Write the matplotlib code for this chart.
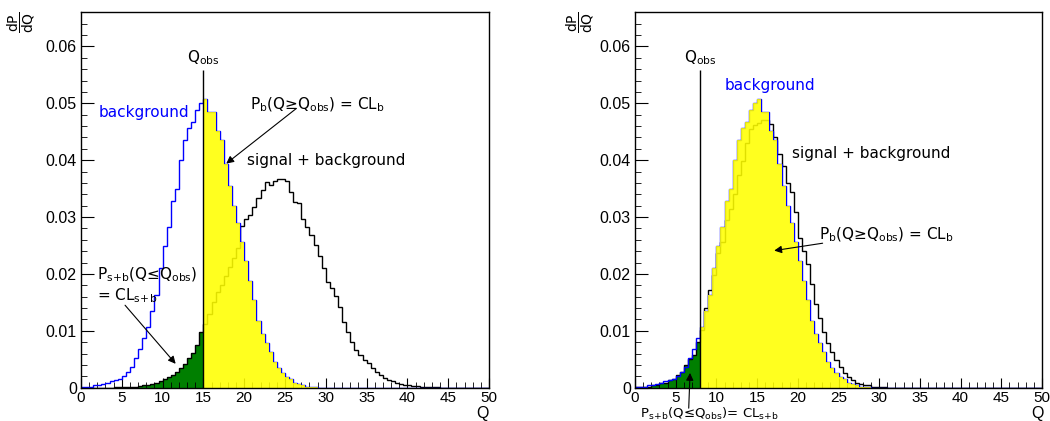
import numpy as np
import matplotlib
matplotlib.use("Agg")
import matplotlib.pyplot as plt
from matplotlib.ticker import MultipleLocator, FuncFormatter

# histogram bins: 0..50 in steps of 0.5
q_edges = np.linspace(0, 50, 101)

# background-only distribution (same in both panels)
background = [
    0.0001, 0.0002, 0.0002, 0.0004, 0.0005, 0.0006, 0.0009, 0.0011, 0.0013, 0.0016,
    0.0020, 0.0028, 0.0037, 0.0052, 0.0068, 0.0088, 0.0106, 0.0135, 0.0163, 0.0211,
    0.0249, 0.0283, 0.0328, 0.0350, 0.0400, 0.0436, 0.0456, 0.0467, 0.0488, 0.0500,
    0.0508, 0.0484, 0.0485, 0.0451, 0.0435, 0.0393, 0.0355, 0.0320, 0.0289, 0.0256,
    0.0222, 0.0188, 0.0155, 0.0118, 0.0094, 0.0078, 0.0062, 0.0045, 0.0034, 0.0025,
    0.0019, 0.0015, 0.0009, 0.0006, 0.0004, 0.0002, 0.0001, 0.0001, 0.0000, 0.0000,
    0.0000, 0.0000, 0.0000, 0.0000, 0.0000, 0.0000, 0.0000, 0.0000, 0.0000, 0.0000,
    0.0000, 0.0000, 0.0000, 0.0000, 0.0000, 0.0000, 0.0000, 0.0000, 0.0000, 0.0000,
    0.0000, 0.0000, 0.0000, 0.0000, 0.0000, 0.0000, 0.0000, 0.0000, 0.0000, 0.0000,
    0.0000, 0.0000, 0.0000, 0.0000, 0.0000, 0.0000, 0.0000, 0.0000, 0.0000, 0.0000,
]

# signal + background, left panel (large signal)
sb_left = [
    0.0000, 0.0000, 0.0000, 0.0000, 0.0000, 0.0000, 0.0000, 0.0000, 0.0001, 0.0001,
    0.0001, 0.0001, 0.0002, 0.0002, 0.0003, 0.0004, 0.0005, 0.0007, 0.0009, 0.0012,
    0.0016, 0.0019, 0.0023, 0.0028, 0.0034, 0.0041, 0.0052, 0.0061, 0.0075, 0.0098,
    0.0112, 0.0130, 0.0150, 0.0168, 0.0181, 0.0196, 0.0213, 0.0228, 0.0246, 0.0285,
    0.0296, 0.0303, 0.0318, 0.0334, 0.0347, 0.0362, 0.0357, 0.0364, 0.0367, 0.0367,
    0.0364, 0.0344, 0.0326, 0.0324, 0.0297, 0.0282, 0.0268, 0.0251, 0.0231, 0.0210,
    0.0185, 0.0175, 0.0162, 0.0142, 0.0115, 0.0098, 0.0081, 0.0066, 0.0057, 0.0049,
    0.0043, 0.0034, 0.0028, 0.0022, 0.0017, 0.0013, 0.0011, 0.0008, 0.0006, 0.0005,
    0.0004, 0.0003, 0.0003, 0.0002, 0.0002, 0.0001, 0.0001, 0.0001, 0.0000, 0.0000,
    0.0000, 0.0000, 0.0000, 0.0000, 0.0000, 0.0000, 0.0000, 0.0000, 0.0000, 0.0000,
]

# signal + background, right panel (small signal)
sb_right = [
    0.0001, 0.0001, 0.0001, 0.0002, 0.0004, 0.0005, 0.0008, 0.0009, 0.0013, 0.0016,
    0.0022, 0.0028, 0.0040, 0.0050, 0.0058, 0.0080, 0.0101, 0.0140, 0.0172, 0.0198,
    0.0236, 0.0256, 0.0295, 0.0315, 0.0340, 0.0374, 0.0398, 0.0430, 0.0455, 0.0462,
    0.0466, 0.0470, 0.0470, 0.0463, 0.0441, 0.0410, 0.0390, 0.0360, 0.0344, 0.0309,
    0.0264, 0.0240, 0.0217, 0.0183, 0.0148, 0.0122, 0.0098, 0.0078, 0.0063, 0.0049,
    0.0036, 0.0025, 0.0018, 0.0013, 0.0009, 0.0007, 0.0005, 0.0004, 0.0002, 0.0002,
    0.0001, 0.0001, 0.0000, 0.0000, 0.0000, 0.0000, 0.0000, 0.0000, 0.0000, 0.0000,
    0.0000, 0.0000, 0.0000, 0.0000, 0.0000, 0.0000, 0.0000, 0.0000, 0.0000, 0.0000,
    0.0000, 0.0000, 0.0000, 0.0000, 0.0000, 0.0000, 0.0000, 0.0000, 0.0000, 0.0000,
    0.0000, 0.0000, 0.0000, 0.0000, 0.0000, 0.0000, 0.0000, 0.0000, 0.0000, 0.0000,
]

q_obs_left = 15
q_obs_right = 8

plt.rcParams["font.family"] = "DejaVu Sans"
plt.rcParams["mathtext.fontset"] = "dejavusans"

YELLOW = "#ffff00"
GREEN = "#007f00"
BLUE = "#0000ff"

SUB_SB = r"$_\mathrm{s\!+\!b}$"
SUB_OBS = r"$_\mathrm{obs}$"

fig = plt.figure(figsize=(10.5, 4.21), dpi=100)
ax1 = fig.add_axes([81 / 1050, 33.3 / 421, 408 / 1050, 376 / 421])
ax2 = fig.add_axes([635 / 1050, 33.3 / 421, 407 / 1050, 376 / 421])


def draw_panel(ax, sb, q_obs):
    bg = np.array(background)
    sb = np.array(sb)
    i = int(round(q_obs / 0.5))
    # green: s+b below Q_obs, yellow: b above Q_obs
    ax.stairs(sb[:i], q_edges[:i + 1], fill=True, color=GREEN, zorder=1)
    ax.stairs(sb, q_edges, color="black", lw=1.0, zorder=2)
    ax.stairs(bg, q_edges, color=BLUE, lw=1.0, zorder=2)
    ax.stairs(bg[i:], q_edges[i:], fill=True, color=YELLOW, alpha=0.88,
              lw=0, zorder=2.1)
    ax.vlines(q_obs, 0, 0.0558, color="black", lw=1.0, zorder=3)
    ax.text(q_obs, 0.0572, "Q" + SUB_OBS, ha="center", va="baseline",
            fontsize=11)

    ax.set_xlim(0, 50)
    ax.set_ylim(0, 0.0661)
    ax.xaxis.set_major_locator(MultipleLocator(5))
    ax.xaxis.set_minor_locator(MultipleLocator(1))
    ax.yaxis.set_major_locator(MultipleLocator(0.01))
    ax.yaxis.set_minor_locator(MultipleLocator(0.002))
    ax.yaxis.set_major_formatter(
        FuncFormatter(lambda v, _: "0" if abs(v) < 1e-9 else f"{v:.2f}"))
    ax.tick_params(which="both", direction="in", top=False, right=False,
                   labelfontfamily="Liberation Sans")
    ax.tick_params(axis="y", labelsize=11.5, pad=3)
    ax.tick_params(axis="x", labelsize=11, pad=2.5)
    ax.tick_params(axis="y", which="major", length=9)
    ax.tick_params(axis="y", which="minor", length=4.5)
    ax.tick_params(axis="x", which="major", length=7)
    ax.tick_params(axis="x", which="minor", length=4)
    for s in ax.spines.values():
        s.set_linewidth(1.0)


draw_panel(ax1, sb_left, q_obs_left)
draw_panel(ax2, sb_right, q_obs_right)

arrow = dict(arrowstyle="-|>", color="black", lw=0.8, mutation_scale=11,
             shrinkA=0, shrinkB=0)

pb_label = r"P$_\mathrm{b}$(Q≥Q" + SUB_OBS + r") = CL$_\mathrm{b}$"

# left panel annotations
ax1.text(2.1, 0.0483, "background", color=BLUE, va="center", fontsize=11)
ax1.text(20.7, 0.0497, pb_label, va="center", fontsize=11)
ax1.annotate("", xy=(17.8, 0.0394), xytext=(26.4, 0.0491), arrowprops=arrow)
ax1.text(20.3, 0.0399, "signal + background", va="center", fontsize=11)
ax1.text(1.9, 0.0198, "P" + SUB_SB + "(Q≤Q" + SUB_OBS + ")", va="center",
         fontsize=11)
ax1.text(1.9, 0.0161, "= CL" + SUB_SB, va="center", fontsize=11)
ax1.annotate("", xy=(11.6, 0.0042), xytext=(5.4, 0.0145), arrowprops=arrow)
ax1.text(49.2, -0.00445, "Q", ha="center", va="center", fontsize=11.5,
         family="Liberation Sans")

# right panel annotations
ax2.text(11.05, 0.0532, "background", color=BLUE, va="center", fontsize=11)
ax2.text(19.25, 0.0412, "signal + background", va="center", fontsize=11)
ax2.text(22.6, 0.0268, pb_label, va="center", fontsize=11)
ax2.annotate("", xy=(17.1, 0.0241), xytext=(23.05, 0.0254), arrowprops=arrow)
ax2.text(0.6, -0.0053, "P" + SUB_SB + "(Q≤Q" + SUB_OBS + ")= CL" + SUB_SB,
         va="baseline", fontsize=9.5, clip_on=False)
ax2.annotate("", xy=(6.76, 0.0026), xytext=(6.6, -0.0036), arrowprops=arrow,
             annotation_clip=False)
ax2.text(49.45, -0.00445, "Q", ha="center", va="center", fontsize=11.5,
         family="Liberation Sans")

# y-axis titles (rotated fraction)
for xpix in (21, 580):
    fig.text(xpix / 1050, 1 - 22 / 421,
             r"$\dfrac{\mathrm{dP}}{\mathrm{dQ}}$",
             rotation=90, ha="center", va="center", fontsize=10)

fig.savefig("out.png", dpi=100)
